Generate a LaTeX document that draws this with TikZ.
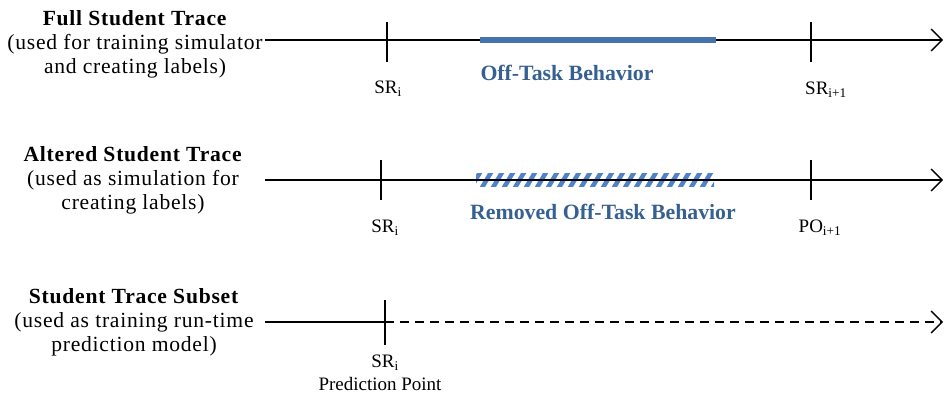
\documentclass[tikz,border=0pt]{standalone}
\usepackage{fontspec}
\setmainfont{Liberation Serif}
\newfontfamily\sidefont[LetterSpace=3.5]{Liberation Serif}
\usetikzlibrary{arrows.meta}
\definecolor{barblue}{RGB}{70,114,176}
\definecolor{hatchblue}{RGB}{80,130,200}
\definecolor{txtblue}{RGB}{54,96,146}
\begin{document}
\begin{tikzpicture}[x=1pt,y=-1pt,
  every node/.style={font=\fontsize{19}{22}\selectfont, inner sep=0pt},
  tl/.style={line width=1.3pt, -{Straight Barb[length=11pt,width=22pt,line width=1.3pt]}},
  tick/.style={line width=1.6pt},
  side/.style={align=center, font=\sidefont\fontsize{21.6}{24}\selectfont},
  blab/.style={font=\fontsize{21.8}{24}\selectfont\bfseries, text=txtblue}]
\useasboundingbox (0,0) rectangle (944,394);
% left labels
\node[side] (l1) at (135,44) {\textbf{Full Student Trace}\\(used for training simulator\\and creating labels)};
\node[side] (l2) at (133,180) {\textbf{Altered Student Trace}\\(used as simulation for\\creating labels)};
\node[side] (l3) at (134,322) {\textbf{Student Trace Subset}\\(used as training run-time\\prediction model)};
% line 1
\coordinate (a1) at (265,40); \coordinate (b1) at (943,40);
\draw[tl] (a1) -- (b1);
\coordinate (t1a) at (387,22); \coordinate (t1b) at (387,62);
\draw[tick] (t1a) -- (t1b);
\coordinate (t2a) at (811,22); \coordinate (t2b) at (811,62);
\draw[tick] (t2a) -- (t2b);
\coordinate (o1) at (480,40); \coordinate (o2) at (716,40);
\draw[barblue, line width=6pt] (o1) -- (o2);
\node[blab] (off) at (567,73) {Off-Task Behavior};
\node (sr1) at (388,89) {SR\textsubscript{i}};
\node (sr2) at (826,90) {SR\textsubscript{i+1}};
% line 2
\coordinate (a2) at (265,180); \coordinate (b2) at (943,180);
\begin{scope}
  \clip (476,173.5) rectangle (714,186.5);
  \foreach \k in {0,...,24} {
    \draw[hatchblue, line width=4.5pt] (469+\k*11,191) -- (482+\k*11,169);
  }
\end{scope}
\draw[tl] (a2) -- (b2);
\coordinate (t3a) at (381,160); \coordinate (t3b) at (381,200);
\draw[tick] (t3a) -- (t3b);
\coordinate (t4a) at (811,160); \coordinate (t4b) at (811,200);
\draw[tick] (t4a) -- (t4b);
\node[blab] (rem) at (603,212) {Removed Off-Task Behavior};
\node (sr3) at (385,228) {SR\textsubscript{i}};
\node (po) at (820,228) {PO\textsubscript{i+1}};
% line 3
\coordinate (a3) at (265,322); \coordinate (m3) at (385,322); \coordinate (b3) at (943,322);
\draw[line width=1.3pt] (a3) -- (m3);
\draw[tl, dash pattern=on 9pt off 6pt] (m3) -- (b3);
\coordinate (t5a) at (385,300); \coordinate (t5b) at (385,345);
\draw[tick] (t5a) -- (t5b);
\node (sr4) at (385,363) {SR\textsubscript{i}};
\node (pp) at (380,384) {Prediction Point};
\end{tikzpicture}
\end{document}
